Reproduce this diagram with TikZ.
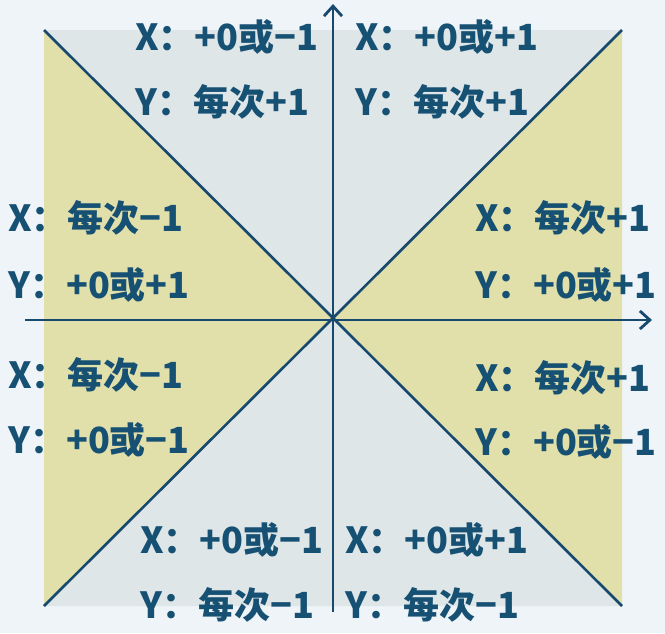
\documentclass[tikz,border=0pt]{standalone}
\usepackage{fontspec}
\newfontfamily\cjk{Noto Sans CJK SC}
\usetikzlibrary{arrows.meta}
\definecolor{pagebg}{RGB}{238,244,248}
\definecolor{sandfill}{RGB}{226,224,170}
\definecolor{mistfill}{RGB}{222,230,232}
\definecolor{inkblue}{RGB}{23,72,110}
\definecolor{textblue}{RGB}{22,80,115}
\tikzset{
  rule/.style={
    draw=inkblue,
    line width=2.6pt,
  },
  axis/.style={
    rule,
    -{Straight Barb[length=10pt,width=18pt,line width=2.8pt]},
  },
  step label/.style={
    anchor=west,
    inner sep=0pt,
    text=textblue,
    font=\cjk\bfseries\fontsize{36}{40}\selectfont,
  }
}

\begin{document}
\begin{tikzpicture}[x=1pt, y=-1pt]
  \useasboundingbox[fill=pagebg] (0, 0) rectangle (665, 633);

  \coordinate (nw) at (44, 30);
  \coordinate (ne) at (622, 30);
  \coordinate (se) at (622, 606);
  \coordinate (sw) at (44, 606);
  \coordinate (o) at (333, 318);

  \fill[mistfill] (nw) -- (ne) -- (o) -- cycle;
  \fill[mistfill] (sw) -- (se) -- (o) -- cycle;
  \fill[sandfill] (nw) -- (sw) -- (o) -- cycle;
  \fill[sandfill] (ne) -- (se) -- (o) -- cycle;

  \draw[rule] (nw) -- (se);
  \draw[rule] (ne) -- (sw);

  \coordinate (xstart) at (25, 320);
  \coordinate (xend) at (652, 320);
  \coordinate (ystart) at (333, 612);
  \coordinate (yend) at (333, 4);
  \draw[axis] (xstart) -- (xend);
  \draw[axis] (ystart) -- (yend);

  \foreach \name/\x/\y/\txt in {
    tlx/135/37/{X：+0或−1},
    tly/135/102/{Y：每次+1},
    trx/355/37/{X：+0或+1},
    try/355/102/{Y：每次+1},
    lux/8/218/{X：每次−1},
    luy/8/285/{Y：+0或+1},
    llx/8/375/{X：每次−1},
    lly/8/440/{Y：+0或−1},
    rux/475/218/{X：每次+1},
    ruy/475/285/{Y：+0或+1},
    rlx/475/378/{X：每次+1},
    rly/475/442/{Y：+0或−1},
    blx/140/540/{X：+0或−1},
    bly/140/605/{Y：每次−1},
    brx/345/540/{X：+0或+1},
    bry/345/605/{Y：每次−1}
  }
    \node[step label] (\name) at (\x, \y) {\txt};

\end{tikzpicture}
\end{document}
